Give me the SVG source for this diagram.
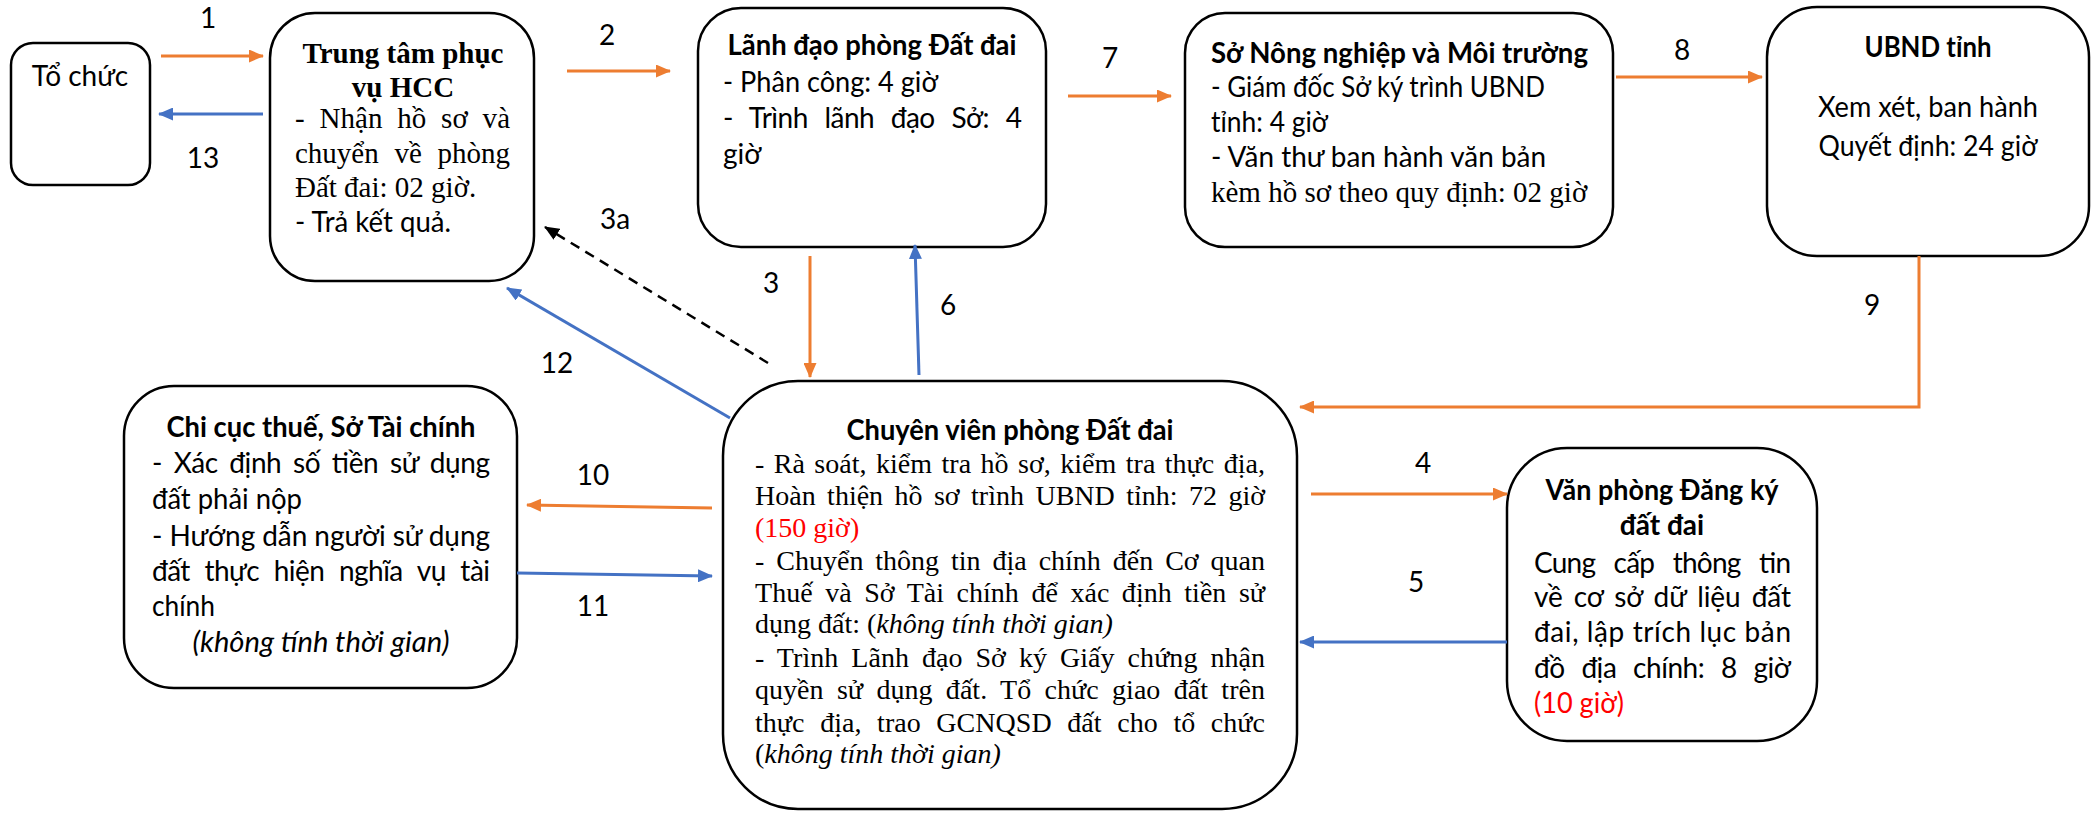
<svg xmlns="http://www.w3.org/2000/svg" width="2094" height="813" viewBox="0 0 2094 813">
<style>
.box{fill:#fff;stroke:#000;stroke-width:2.5}
.s{font-family:Lato,'Liberation Sans',sans-serif;font-size:28px;fill:#000}
.b{font-weight:bold}
.t{font-family:'Liberation Serif','Times New Roman',serif;font-size:28px;fill:#000}
.t29{font-size:29px}
.i{font-style:italic}
.red{fill:#FF0000}
.mid{text-anchor:middle}
.or{stroke:#ED7D31;stroke-width:3;fill:none}
.bl{stroke:#4472C4;stroke-width:3;fill:none}
.dash{stroke:#000;stroke-width:2.5;fill:none;stroke-dasharray:10 7}
.lbl{font-family:Lato,'Liberation Sans',sans-serif;font-size:28px;fill:#000;text-anchor:middle}
</style>
<defs>
<marker id="ao" viewBox="0 0 15 13" refX="14" refY="6.5" markerWidth="15" markerHeight="13" markerUnits="userSpaceOnUse" orient="auto"><path d="M0,0 L15,6.5 L0,13 z" fill="#ED7D31"/></marker>
<marker id="ab" viewBox="0 0 15 13" refX="14" refY="6.5" markerWidth="15" markerHeight="13" markerUnits="userSpaceOnUse" orient="auto"><path d="M0,0 L15,6.5 L0,13 z" fill="#4472C4"/></marker>
<marker id="ak" viewBox="0 0 15 13" refX="14" refY="6.5" markerWidth="15" markerHeight="13" markerUnits="userSpaceOnUse" orient="auto"><path d="M0,0 L15,6.5 L0,13 z" fill="#000"/></marker>
</defs>
<rect width="2094" height="813" fill="#fff"/>

<g id="to-chuc">
<rect class="box" x="11" y="43" width="139" height="142" rx="22"/>
<text class="s mid" x="80" y="86">Tổ chức</text>
</g>

<g id="trung-tam">
<rect class="box" x="270" y="13" width="264" height="268" rx="45"/>
<text class="t t29 b mid" x="403" y="63">Trung tâm phục</text>
<text class="t t29 b mid" x="403" y="97">vụ HCC</text>
<text class="t t29" x="295" y="128" style="word-spacing:7.5px" textLength="215" lengthAdjust="spacing">- Nhận hồ sơ và</text>
<text class="t t29" x="295" y="163" style="word-spacing:8.5px" textLength="215" lengthAdjust="spacing">chuyển về phòng</text>
<text class="t t29" x="295" y="197">Đất đai: 02 giờ.</text>
<text class="s" x="295" y="232" textLength="156" lengthAdjust="spacingAndGlyphs">- Trả kết quả.</text>
</g>

<g id="lanh-dao">
<rect class="box" x="698" y="8" width="348" height="239" rx="43"/>
<text class="s b mid" x="872" y="55" textLength="289" lengthAdjust="spacingAndGlyphs">Lãnh đạo phòng Đất đai</text>
<text class="s" x="723" y="92" textLength="215" lengthAdjust="spacingAndGlyphs">-  Phân công: 4 giờ</text>
<text class="s" x="723" y="128" style="word-spacing:10px" textLength="299" lengthAdjust="spacing">- Trình lãnh đạo Sở: 4</text>
<text class="s" x="723" y="164">giờ</text>
</g>

<g id="so-nong-nghiep">
<rect class="box" x="1185" y="13" width="428" height="234" rx="40"/>
<text class="s b" x="1211" y="63" textLength="377" lengthAdjust="spacingAndGlyphs">Sở Nông nghiệp và Môi trường</text>
<text class="s" x="1211" y="97" textLength="334" lengthAdjust="spacingAndGlyphs">- Giám đốc Sở ký trình UBND</text>
<text class="s" x="1211" y="132" textLength="117" lengthAdjust="spacingAndGlyphs">tỉnh: 4 giờ</text>
<text class="s" x="1211" y="167" textLength="335" lengthAdjust="spacingAndGlyphs">-  Văn thư ban hành văn bản</text>
<text class="t t29" x="1211" y="202">kèm hồ sơ theo quy định: 02 giờ</text>
</g>

<g id="ubnd">
<rect class="box" x="1767" y="7" width="322" height="249" rx="50"/>
<text class="s b mid" x="1928" y="57" textLength="127" lengthAdjust="spacingAndGlyphs">UBND tỉnh</text>
<text class="s mid" x="1928" y="117" textLength="220" lengthAdjust="spacingAndGlyphs">Xem xét, ban hành</text>
<text class="s mid" x="1928" y="156" textLength="219" lengthAdjust="spacingAndGlyphs">Quyết định: 24 giờ</text>
</g>

<g id="chi-cuc-thue">
<rect class="box" x="124" y="386" width="393" height="302" rx="50"/>
<text class="s b mid" x="321" y="437" textLength="309" lengthAdjust="spacingAndGlyphs">Chi cục thuế, Sở Tài chính</text>
<text class="s" x="152" y="473" style="word-spacing:5px" textLength="338" lengthAdjust="spacing">- Xác định số tiền sử dụng</text>
<text class="s" x="152" y="509" textLength="150" lengthAdjust="spacingAndGlyphs">đất phải nộp</text>
<text class="s" x="152" y="546" textLength="338" lengthAdjust="spacing">- Hướng dẫn người sử dụng</text>
<text class="s" x="152" y="581" style="word-spacing:8px" textLength="338" lengthAdjust="spacing">đất thực hiện nghĩa vụ tài</text>
<text class="s" x="152" y="616" textLength="63" lengthAdjust="spacingAndGlyphs">chính</text>
<text class="s i mid" x="321" y="652" textLength="257" lengthAdjust="spacingAndGlyphs">(không tính thời gian)</text>
</g>

<g id="chuyen-vien">
<rect class="box" x="723" y="381" width="574" height="428" rx="75"/>
<text class="s b mid" x="1010" y="440" textLength="327" lengthAdjust="spacingAndGlyphs">Chuyên viên phòng Đất đai</text>
<text class="t" x="755" y="473" style="word-spacing:2.4px" textLength="510" lengthAdjust="spacing">- Rà soát, kiểm tra hồ sơ, kiểm tra thực địa,</text>
<text class="t" x="755" y="505" style="word-spacing:4.4px" textLength="510" lengthAdjust="spacing">Hoàn thiện hồ sơ trình UBND tỉnh: 72 giờ</text>
<text class="t red" x="755" y="537">(150 giờ)</text>
<text class="t" x="755" y="570" style="word-spacing:4.9px" textLength="510" lengthAdjust="spacing">- Chuyển thông tin địa chính đến Cơ quan</text>
<text class="t" x="755" y="602" style="word-spacing:5.5px" textLength="510" lengthAdjust="spacing">Thuế và Sở Tài chính để xác định tiền sử</text>
<text class="t" x="755" y="633">dụng đất: (<tspan class="i">không tính thời gian)</tspan></text>
<text class="t" x="755" y="667" style="word-spacing:5.9px" textLength="510" lengthAdjust="spacing">- Trình Lãnh đạo Sở ký Giấy chứng nhận</text>
<text class="t" x="755" y="699" style="word-spacing:6.3px" textLength="510" lengthAdjust="spacing">quyền sử dụng đất. Tổ chức giao đất trên</text>
<text class="t" x="755" y="732" style="word-spacing:8.6px" textLength="510" lengthAdjust="spacing">thực địa, trao GCNQSD đất cho tổ chức</text>
<text class="t" x="755" y="763">(<tspan class="i">không tính thời gian)</tspan></text>
</g>

<g id="van-phong-dang-ky">
<rect class="box" x="1507" y="448" width="310" height="293" rx="60"/>
<text class="s b mid" x="1662" y="500" textLength="233" lengthAdjust="spacingAndGlyphs">Văn phòng Đăng ký</text>
<text class="s b mid" x="1662" y="535">đất đai</text>
<text class="s" x="1534" y="573" style="word-spacing:12px" textLength="257" lengthAdjust="spacing">Cung cấp thông tin</text>
<text class="s" x="1534" y="607" style="word-spacing:4px" textLength="257" lengthAdjust="spacing">về cơ sở dữ liệu đất</text>
<text class="s" x="1534" y="642" textLength="257" lengthAdjust="spacing">đai, lập trích lục bản</text>
<text class="s" x="1534" y="678" style="word-spacing:10px" textLength="257" lengthAdjust="spacing">đồ địa chính: 8 giờ</text>
<text class="s red" x="1534" y="713" textLength="90" lengthAdjust="spacingAndGlyphs">(10 giờ)</text>
</g>

<g id="connectors">
<line class="or" x1="161" y1="56" x2="263" y2="56" marker-end="url(#ao)"/>
<line class="bl" x1="263" y1="114" x2="159" y2="114" marker-end="url(#ab)"/>
<line class="or" x1="567" y1="71" x2="670" y2="71" marker-end="url(#ao)"/>
<line class="or" x1="1068" y1="96" x2="1171" y2="96" marker-end="url(#ao)"/>
<line class="or" x1="1616" y1="77" x2="1762" y2="77" marker-end="url(#ao)"/>
<polyline class="or" points="1919,256 1919,407 1300,407" marker-end="url(#ao)"/>
<line class="or" x1="810" y1="256" x2="810" y2="377" marker-end="url(#ao)"/>
<line class="bl" x1="919" y1="375" x2="915" y2="245" marker-end="url(#ab)"/>
<line class="dash" x1="768" y1="363" x2="545" y2="227" marker-end="url(#ak)"/>
<line class="bl" x1="730" y1="418" x2="507" y2="288" marker-end="url(#ab)"/>
<line class="or" x1="1311" y1="494" x2="1507" y2="494" marker-end="url(#ao)"/>
<line class="bl" x1="1507" y1="642" x2="1300" y2="642" marker-end="url(#ab)"/>
<line class="or" x1="712" y1="508" x2="527" y2="505" marker-end="url(#ao)"/>
<line class="bl" x1="517" y1="573" x2="712" y2="576" marker-end="url(#ab)"/>
<text class="lbl" x="208" y="28">1</text>
<text class="lbl" x="203" y="168">13</text>
<text class="lbl" x="607" y="45">2</text>
<text class="lbl" x="1110" y="68">7</text>
<text class="lbl" x="1682" y="60">8</text>
<text class="lbl" x="1872" y="315">9</text>
<text class="lbl" x="615" y="229">3a</text>
<text class="lbl" x="771" y="293">3</text>
<text class="lbl" x="948" y="315">6</text>
<text class="lbl" x="557" y="373">12</text>
<text class="lbl" x="1423" y="473">4</text>
<text class="lbl" x="1416" y="592">5</text>
<text class="lbl" x="593" y="485">10</text>
<text class="lbl" x="593" y="616">11</text>
</g>
</svg>
